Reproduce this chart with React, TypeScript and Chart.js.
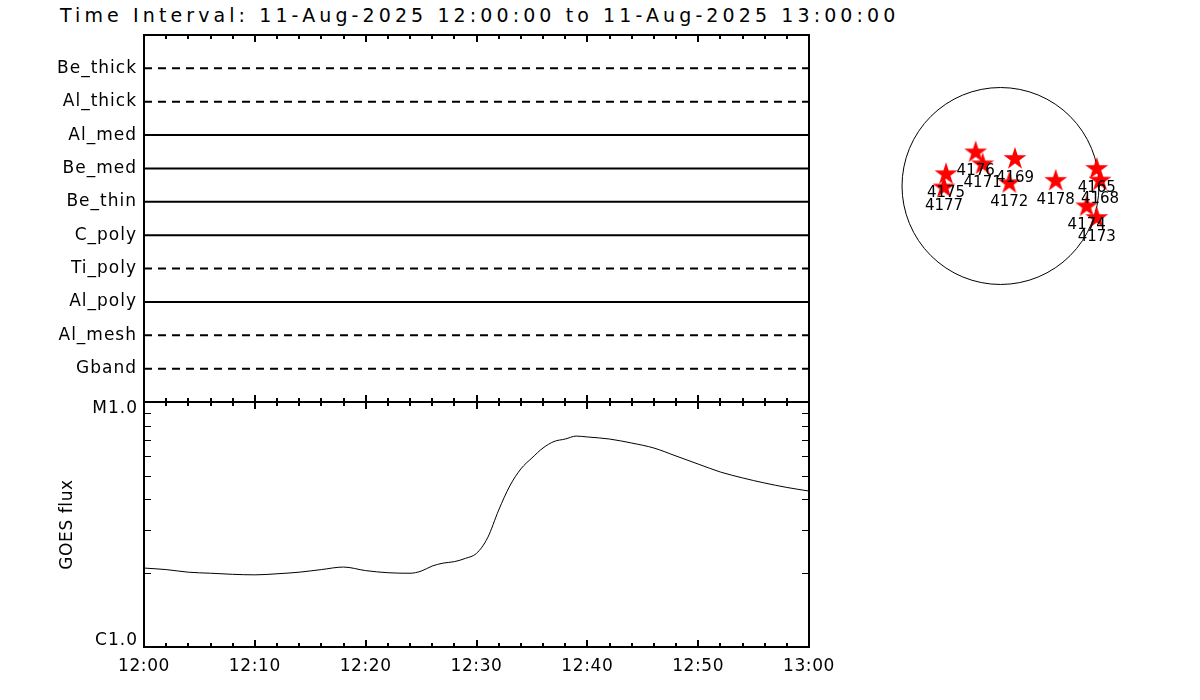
import React, { useEffect, useRef } from 'react';
import { Chart, registerables } from 'chart.js';

Chart.register(...registerables);

// ---------------- data ----------------
const TITLE = 'Time Interval: 11-Aug-2025 12:00:00 to 11-Aug-2025 13:00:00';

const FILTERS = ['Be_thick', 'Al_thick', 'Al_med', 'Be_med', 'Be_thin', 'C_poly', 'Ti_poly', 'Al_poly', 'Al_mesh', 'Gband'];
const FILTER_DASHED = [true, true, false, false, false, false, true, false, true, true];

// minutes after 12:00
const TIME_START = 0;
const TIME_END = 60;
const TIME_TICK_LABELS = ['12:00', '12:10', '12:20', '12:30', '12:40', '12:50', '13:00'];

const GOES_MINUTES = [0, 2, 4, 6, 8, 10, 12, 14, 16, 18, 20, 22, 24, 25, 26, 27, 28, 29, 30, 31, 32, 33, 34, 35, 36, 37, 38, 39, 40, 42, 44, 46, 48, 50, 52, 54, 56, 58, 60];
const GOES_FLUX = [
  2.10e-6, 2.07e-6, 2.02e-6, 2.00e-6, 1.98e-6, 1.97e-6, 1.99e-6, 2.02e-6, 2.07e-6, 2.12e-6,
  2.05e-6, 2.01e-6, 2.00e-6, 2.04e-6, 2.14e-6, 2.20e-6, 2.23e-6, 2.30e-6, 2.41e-6, 2.79e-6,
  3.62e-6, 4.54e-6, 5.33e-6, 5.91e-6, 6.49e-6, 6.90e-6, 7.06e-6, 7.26e-6, 7.20e-6, 7.06e-6,
  6.80e-6, 6.49e-6, 6.02e-6, 5.58e-6, 5.18e-6, 4.90e-6, 4.67e-6, 4.48e-6, 4.33e-6,
];
const FLUX_MIN = 1e-6;
const FLUX_MAX = 1e-5;
const FLUX_LABELS = ['C1.0', 'M1.0'];
const FLUX_MINOR = [2e-6, 3e-6, 4e-6, 5e-6, 6e-6, 7e-6, 8e-6, 9e-6];

// active regions, heliocentric arcsec
const AR_NUMBERS = ['4176', '4171', '4169', '4175', '4177', '4172', '4178', '4165', '4168', '4174', '4173'];
const AR_X = [-242, -174, 141, -531, -551, 86, 538, 938, 970, 840, 938];
const AR_Y = [339, 222, 275, 125, -5, 37, 60, 177, 63, -190, -304];
const SOLAR_RADIUS = 960;
const SUN_RANGE = 1082;

const FONT = 'DejaVu Sans';

function makeStar(): HTMLCanvasElement {
  const c = document.createElement('canvas');
  c.width = 26;
  c.height = 26;
  const g = c.getContext('2d')!;
  const R = 12;
  const r = R * 0.382;
  const cx = 13;
  const cy = 14;
  g.beginPath();
  for (let i = 0; i < 10; i++) {
    const rad = i % 2 === 0 ? R : r;
    const a = -Math.PI / 2 + (i * Math.PI) / 5;
    const x = cx + rad * Math.cos(a);
    const y = cy + rad * Math.sin(a);
    if (i === 0) g.moveTo(x, y);
    else g.lineTo(x, y);
  }
  g.closePath();
  g.fillStyle = '#ff0000';
  g.fill();
  return c;
}

const spacing = (sp: string) => ({
  id: 'spacing',
  beforeDraw(chart: any) {
    chart.ctx.letterSpacing = sp;
  },
});

const zeroPad = (s: any) => {
  s.paddingTop = 0;
  s.paddingBottom = 0;
  s.paddingLeft = 0;
  s.paddingRight = 0;
};

const framePlugin = (yTicks: number[] | null) => ({
  id: 'frame',
  afterDraw(chart: any) {
    const { ctx, chartArea: a } = chart;
    const xs = chart.scales.x;
    const ys = chart.scales.y;
    ctx.save();
    ctx.strokeStyle = '#000';
    ctx.lineWidth = 2;
    ctx.strokeRect(a.left, a.top, a.right - a.left, a.bottom - a.top);
    ctx.beginPath();
    for (let m = TIME_START; m <= TIME_END; m += 2) {
      const px = Math.round(xs.getPixelForValue(m));
      const len = m % 10 === 0 ? 7 : 4;
      ctx.moveTo(px, a.top);
      ctx.lineTo(px, a.top + len);
      ctx.moveTo(px, a.bottom);
      ctx.lineTo(px, a.bottom - len);
    }
    ctx.stroke();
    if (yTicks) {
      ctx.lineWidth = 1;
      ctx.beginPath();
      yTicks.forEach((v) => {
        const py = Math.round(ys.getPixelForValue(v)) + 0.5;
        ctx.moveTo(a.left, py);
        ctx.lineTo(a.left + 7, py);
        ctx.moveTo(a.right, py);
        ctx.lineTo(a.right - 7, py);
      });
      ctx.stroke();
    }
    ctx.restore();
  },
});

export default function App() {
  const upperRef = useRef<HTMLCanvasElement>(null);
  const lowerRef = useRef<HTMLCanvasElement>(null);
  const sunRef = useRef<HTMLCanvasElement>(null);

  useEffect(() => {
    document.body.style.margin = '0';
    Chart.defaults.font.family = FONT;
    Chart.defaults.color = '#000';
    const charts: Chart[] = [];

    // ---------- filter panel ----------
    charts.push(
      new Chart(upperRef.current!, {
        type: 'line',
        data: {
          datasets: FILTERS.map((f, i) => ({
            label: f,
            data: [
              { x: TIME_START, y: FILTERS.length - i },
              { x: TIME_END, y: FILTERS.length - i },
            ],
            borderColor: '#000',
            borderWidth: 2,
            borderDash: FILTER_DASHED[i] ? [8, 6] : [],
            borderCapStyle: 'butt',
            pointRadius: 0,
          })),
        },
        options: {
          responsive: false,
          animation: false,
          events: [],
          layout: { padding: { top: 35, bottom: 8, left: 0, right: 21 } },
          plugins: { legend: { display: false }, tooltip: { enabled: false } },
          scales: {
            x: { type: 'linear', min: TIME_START, max: TIME_END, display: false },
            y: {
              type: 'linear',
              min: 0,
              max: FILTERS.length + 1,
              grid: { display: false, drawTicks: false },
              border: { display: false },
              afterBuildTicks: (s: any) => {
                s.ticks = FILTERS.map((_, i) => ({ value: FILTERS.length - i }));
              },
              afterFit: (s: any) => {
                s.width = 144;
                zeroPad(s);
              },
              ticks: {
                padding: 7,
                font: { family: FONT, size: 17 },
                color: '#000',
                callback: (v: any) => FILTERS[FILTERS.length - Number(v)],
              },
            },
          },
        },
        plugins: [spacing('1px'), framePlugin(null)],
      } as any)
    );

    // ---------- GOES panel ----------
    const fluxLabels = {
      id: 'fluxLabels',
      afterDraw(chart: any) {
        const { ctx } = chart;
        const ys = chart.scales.y;
        ctx.save();
        ctx.letterSpacing = '1px';
        ctx.font = `17px "${FONT}"`;
        ctx.fillStyle = '#000';
        ctx.textAlign = 'right';
        ctx.textBaseline = 'middle';
        ctx.fillText(FLUX_LABELS[1], 138, ys.getPixelForValue(FLUX_MAX) + 7);
        ctx.fillText(FLUX_LABELS[0], 138, ys.getPixelForValue(FLUX_MIN) - 6.5);
        ctx.restore();
      },
    };
    charts.push(
      new Chart(lowerRef.current!, {
        type: 'line',
        data: {
          datasets: [
            {
              label: 'GOES',
              data: GOES_MINUTES.map((m, i) => ({ x: m, y: GOES_FLUX[i] })),
              borderColor: '#000',
              borderWidth: 1,
              pointRadius: 0,
              cubicInterpolationMode: 'monotone',
            },
          ],
        },
        options: {
          responsive: false,
          animation: false,
          events: [],
          layout: { padding: { top: 12, bottom: 0, left: 0, right: 51 } },
          plugins: { legend: { display: false }, tooltip: { enabled: false } },
          scales: {
            x: {
              type: 'linear',
              min: TIME_START,
              max: TIME_END,
              grid: { display: false, drawTicks: false },
              border: { display: false },
              afterBuildTicks: (s: any) => {
                s.ticks = TIME_TICK_LABELS.map((_, i) => ({ value: TIME_START + i * 10 }));
              },
              afterFit: (s: any) => {
                s.height = 53;
                zeroPad(s);
              },
              ticks: {
                padding: 9,
                autoSkip: false,
                maxRotation: 0,
                font: { family: FONT, size: 17 },
                color: '#000',
                callback: (_v: any, i: number) => TIME_TICK_LABELS[i],
              },
            },
            y: {
              type: 'logarithmic',
              min: FLUX_MIN,
              max: FLUX_MAX,
              grid: { display: false, drawTicks: false },
              border: { display: false },
              ticks: { display: false },
              afterFit: (s: any) => {
                s.width = 144;
                zeroPad(s);
              },
              title: {
                display: true,
                text: 'GOES flux',
                color: '#000',
                font: { family: FONT, size: 17 },
                padding: { top: 57, bottom: 0 },
              },
            },
          },
        },
        plugins: [spacing('0.6px'), framePlugin(FLUX_MINOR), fluxLabels],
      } as any)
    );

    // ---------- solar disk ----------
    const star = makeStar();
    const sunPlugin = {
      id: 'sun',
      beforeDatasetsDraw(chart: any) {
        const { ctx } = chart;
        const xs = chart.scales.x;
        const ys = chart.scales.y;
        const cx = xs.getPixelForValue(0);
        const cy = ys.getPixelForValue(0);
        const r = Math.abs(xs.getPixelForValue(SOLAR_RADIUS) - cx);
        ctx.save();
        ctx.strokeStyle = '#000';
        ctx.lineWidth = 1;
        ctx.beginPath();
        ctx.arc(cx, cy, r, 0, Math.PI * 2);
        ctx.stroke();
        ctx.restore();
      },
      afterDatasetsDraw(chart: any) {
        const { ctx } = chart;
        const xs = chart.scales.x;
        const ys = chart.scales.y;
        ctx.save();
        ctx.letterSpacing = '0px';
        ctx.font = `15px "${FONT}"`;
        ctx.fillStyle = '#000';
        ctx.textAlign = 'center';
        ctx.textBaseline = 'middle';
        AR_NUMBERS.forEach((n, i) => {
          ctx.fillText(n, xs.getPixelForValue(AR_X[i]), ys.getPixelForValue(AR_Y[i]) + 20);
        });
        ctx.restore();
      },
    };
    charts.push(
      new Chart(sunRef.current!, {
        type: 'scatter',
        data: {
          datasets: [
            {
              label: 'AR',
              data: AR_X.map((x, i) => ({ x, y: AR_Y[i] })),
              pointStyle: star,
              pointRadius: 12,
              clip: false,
            },
          ],
        },
        options: {
          responsive: false,
          animation: false,
          events: [],
          layout: { padding: { left: 29.5, top: 20.5, right: 38.5, bottom: 28.5 } },
          plugins: { legend: { display: false }, tooltip: { enabled: false } },
          scales: {
            x: { type: 'linear', min: -SUN_RANGE, max: SUN_RANGE, display: false },
            y: { type: 'linear', min: -SUN_RANGE, max: SUN_RANGE, display: false },
          },
        },
        plugins: [sunPlugin],
      } as any)
    );

    return () => charts.forEach((c) => c.destroy());
  }, []);

  return (
    <div style={{ position: 'fixed', left: 0, top: 0, width: 1200, height: 700, background: '#fff', overflow: 'hidden' }}>
      <div
        style={{
          position: 'absolute',
          left: 60,
          top: 6,
          fontFamily: FONT,
          fontSize: 19,
          lineHeight: '19px',
          letterSpacing: '4.1px',
          whiteSpace: 'nowrap',
          color: '#000',
        }}
      >
        {TITLE}
      </div>
      <canvas ref={upperRef} width={830} height={410} style={{ position: 'absolute', left: 0, top: 0, width: 830, height: 410 }} />
      <canvas ref={lowerRef} width={860} height={310} style={{ position: 'absolute', left: 0, top: 390, width: 860, height: 310 }} />
      <canvas ref={sunRef} width={290} height={270} style={{ position: 'absolute', left: 860, top: 55, width: 290, height: 270 }} />
    </div>
  );
}
